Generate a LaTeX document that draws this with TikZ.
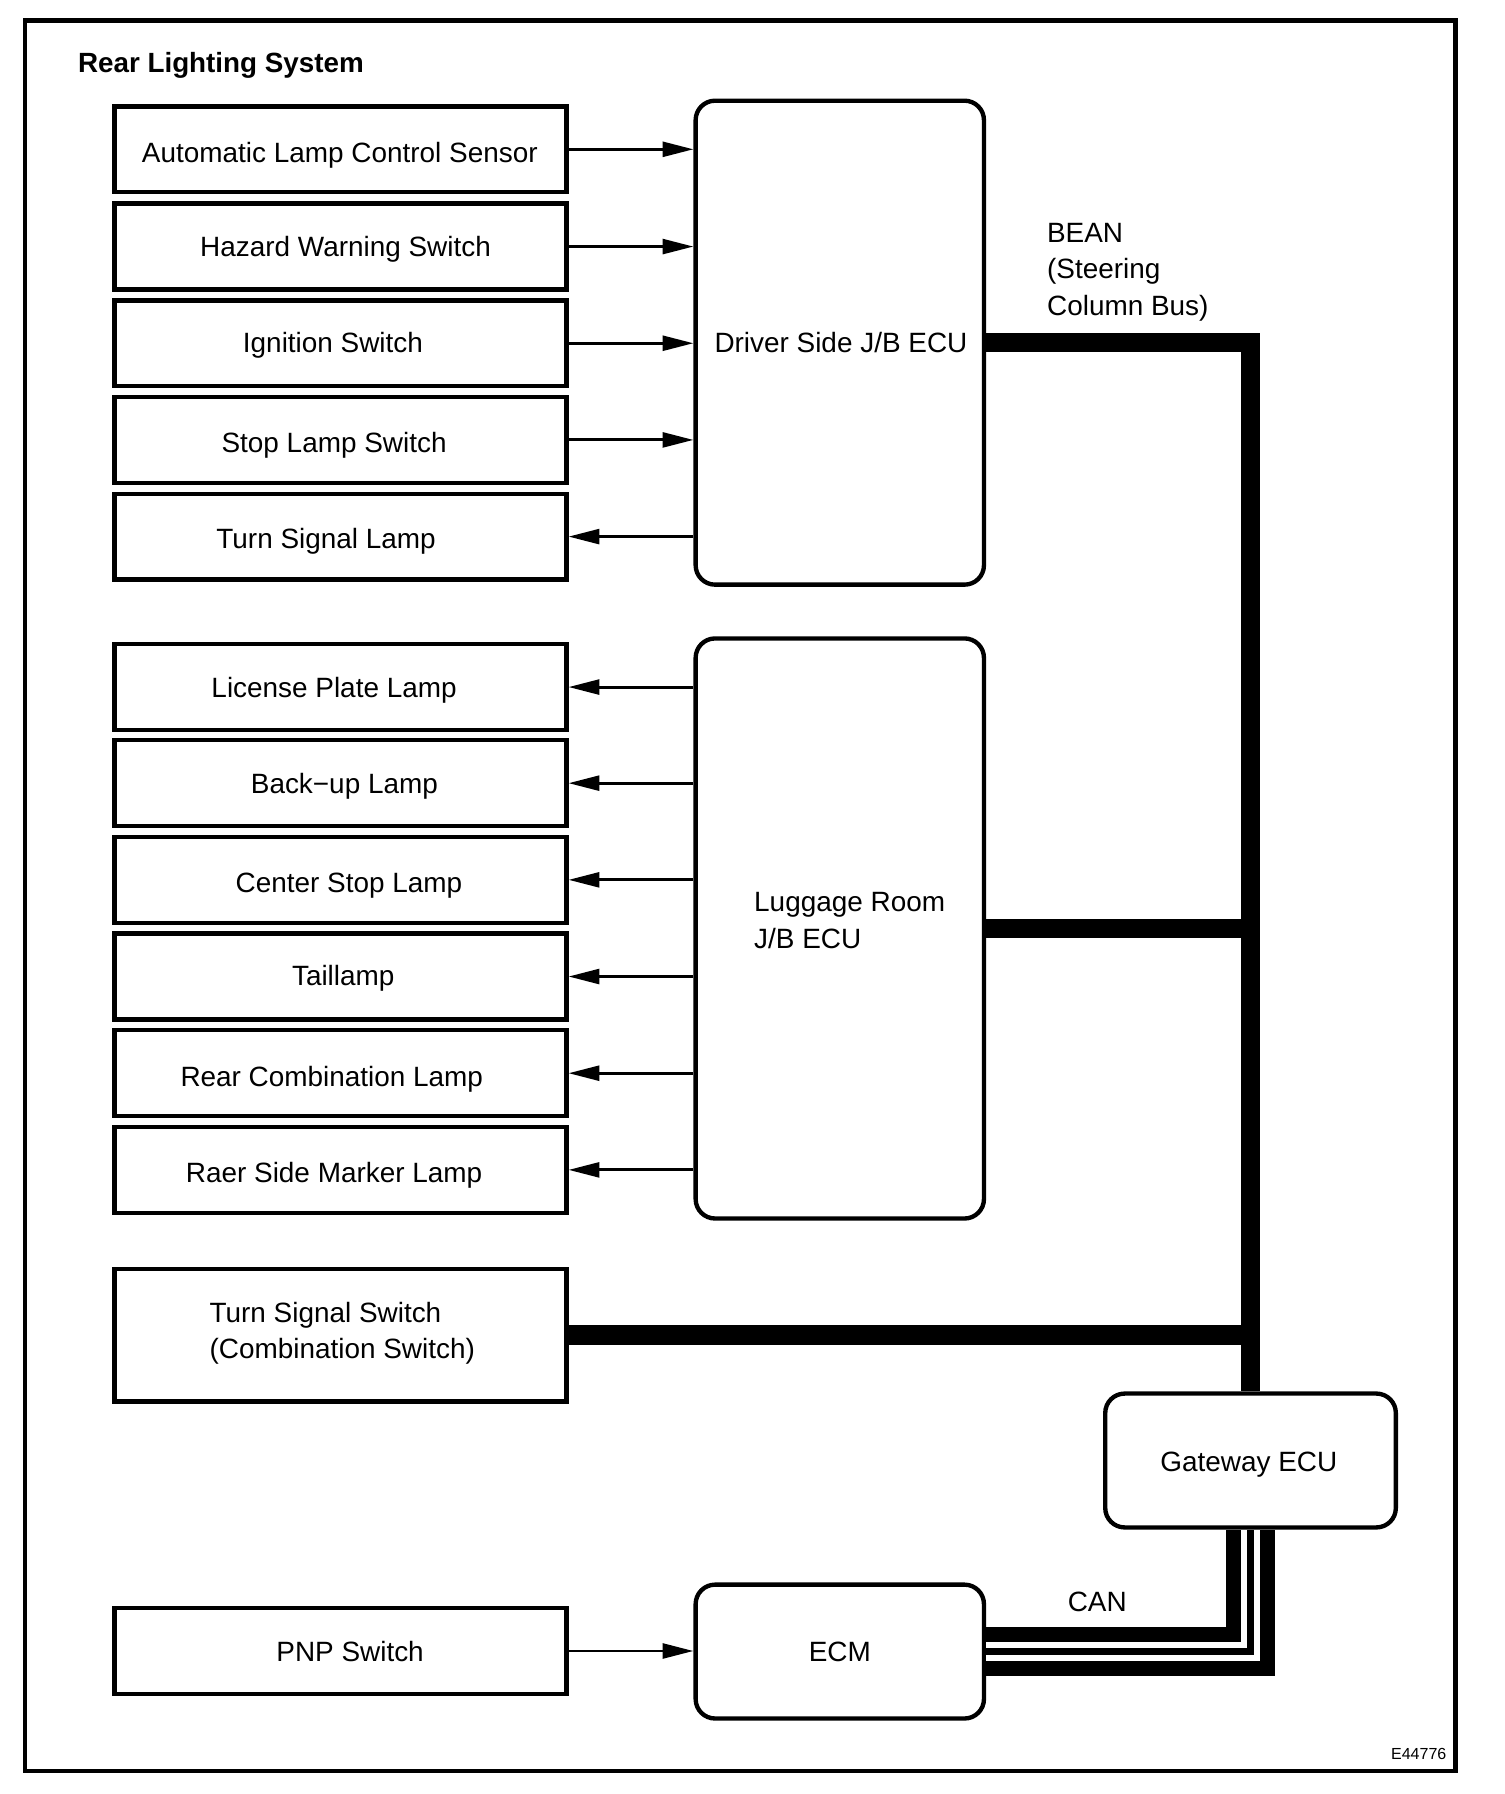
\documentclass[tikz,border=0pt]{standalone}
\usepackage{fontspec}
\setmainfont{Liberation Sans}
\usetikzlibrary{arrows.meta,calc}
\begin{document}
\begin{tikzpicture}[x=1pt,y=-1pt,
  lbl/.style={inner sep=0pt, text height=17.5pt, text depth=0pt, font=\fontsize{24.4}{32}\selectfont},
  lbox/.style={draw, line width=3.8pt, minimum width=395pt, minimum height=75pt, inner sep=0pt},
  ecu/.style={draw, line width=3.8pt, rounded corners=17pt, minimum width=252pt, inner sep=0pt},
  arr/.style={line width=2.6pt, -{Triangle[length=27pt,width=13pt]}},
  bean/.style={line width=17pt, line join=miter},
  canbus/.style={line width=43pt, line join=miter},
  canw/.style={white, line width=5pt, line join=miter}]
\useasboundingbox (0,0) rectangle (1315,1568);
\fill[white] (0,0) rectangle (1315,1568);
% frame
\draw[line width=4pt] (22,18) rectangle (1272,1548);
\node[lbl, anchor=west, font=\fontsize{24.3}{32}\selectfont\bfseries] (title) at (68,55) {Rear Lighting System};
\node[lbl, font=\fontsize{14}{16}\selectfont, text height=10pt] (code) at (1240,1533) {E44776};

% left boxes
\node[lbox] (als) at (297.5,130.5) {};
\node[lbl] (als-t) at (297,133) {Automatic Lamp Control Sensor};
\node[lbox] (hws) at (297.5,215.5) {};
\node[lbl] (hws-t) at (302,215) {Hazard Warning Switch};
\node[lbox] (ign) at (297.5,300) {};
\node[lbl] (ign-t) at (291,299) {Ignition Switch};
\node[lbox] (sls) at (297.5,384.5) {};
\node[lbl] (sls-t) at (292,387) {Stop Lamp Switch};
\node[lbox] (tsl) at (297.5,469) {};
\node[lbl] (tsl-t) at (285,471) {Turn Signal Lamp};

\node[lbox] (lpl) at (297.5,600.5) {};
\node[lbl] (lpl-t) at (292,601) {License Plate Lamp};
\node[lbox] (bul) at (297.5,684.5) {};
\node[lbl] (bul-t) at (301,685) {Back{\char"2212}up Lamp};
\node[lbox] (csl) at (297.5,769) {};
\node[lbl] (csl-t) at (305,771) {Center Stop Lamp};
\node[lbox] (tl) at (297.5,853.5) {};
\node[lbl] (tl-t) at (300,853) {Taillamp};
\node[lbox] (rcl) at (297.5,938) {};
\node[lbl] (rcl-t) at (290,941) {Rear Combination Lamp};
\node[lbox] (rsm) at (297.5,1022.5) {};
\node[lbl] (rsm-t) at (292,1025) {Raer Side Marker Lamp};

\node[lbox, minimum height=116pt] (tss) at (297.5,1167) {};
\node[lbl, anchor=west, align=left] (tss-t) at (183,1179) {Turn Signal Switch\\(Combination Switch)};
\node[lbox] (pnp) at (297.5,1443) {};
\node[lbl] (pnp-t) at (306,1443) {PNP Switch};

% ECUs
\node[ecu, minimum height=423pt] (drv) at (734,299.5) {};
\node[lbl] (drv-t) at (735,299) {Driver Side J/B ECU};
\node[ecu, minimum height=507pt] (lug) at (734,811.5) {};
\node[lbl, anchor=west, align=left] (lug-t) at (659,820) {Luggage Room\\J/B ECU};
\node[ecu, minimum height=117pt] (ecm) at (734,1443.5) {};
\node[lbl] (ecm-t) at (734,1443) {ECM};
\node[ecu, minimum width=254pt, minimum height=117pt] (gw) at (1093,1276.5) {};
\node[lbl] (gw-t) at (1091.5,1277) {Gateway ECU};

% bus labels
\node[lbl, anchor=west, align=left] (bean-t) at (915,267) {BEAN\\(Steering\\Column Bus)};
\node[lbl] (can-t) at (959,1400) {CAN};

% arrows
\draw[arr] (als.east) -- (drv.west |- als.east);
\draw[arr] (hws.east) -- (drv.west |- hws.east);
\draw[arr] (ign.east) -- (drv.west |- ign.east);
\draw[arr] (sls.east) -- (drv.west |- sls.east);
\draw[arr] (drv.west |- tsl.east) -- (tsl.east);
\draw[arr] (lug.west |- lpl.east) -- (lpl.east);
\draw[arr] (lug.west |- bul.east) -- (bul.east);
\draw[arr] (lug.west |- csl.east) -- (csl.east);
\draw[arr] (lug.west |- tl.east) -- (tl.east);
\draw[arr] (lug.west |- rcl.east) -- (rcl.east);
\draw[arr] (lug.west |- rsm.east) -- (rsm.east);
\draw[arr] (pnp.east) -- (ecm.west |- pnp.east);

% BEAN bus
\draw[bean] (drv.east) -- (drv.east -| gw.north) -- (gw.north);
\draw[bean] (lug.east) -- (lug.east -| gw.north);
\draw[bean] (tss.east) -- (tss.east -| gw.north);

% CAN bus
\draw[canbus] (ecm.east) -- (ecm.east -| gw.south) -- (gw.south);
\draw[canw] ($(ecm.east)+(0,5.5)$) -- ($(ecm.east -| gw.south)+(5.5,5.5)$) -- ($(gw.south)+(5.5,0)$);
\draw[canw] ($(ecm.east)+(0,-5.5)$) -- ($(ecm.east -| gw.south)+(-5.5,-5.5)$) -- ($(gw.south)+(-5.5,0)$);
\end{tikzpicture}
\end{document}
